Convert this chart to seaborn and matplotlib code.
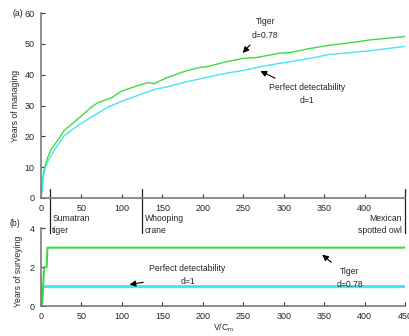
import matplotlib
matplotlib.use("Agg")
import matplotlib.pyplot as plt
import seaborn as sns
import pandas as pd

# ---------- data ----------
# (a) years of managing vs V/C_m
x_tiger_mng = [0, 1, 2.5, 4.5, 8, 12.7, 21, 29, 37, 49, 60, 70, 87, 99, 120, 132, 140,
               155, 180, 197, 205, 229, 250, 267, 295, 308, 330, 357, 380, 407, 450]
y_tiger_mng = [0, 2.5, 7, 10, 13, 15.8, 18.8, 22, 23.7, 26.4, 29, 30.9, 32.5, 34.6, 36.5, 37.4, 37.1,
               39, 41.3, 42.4, 42.6, 44.2, 45.3, 45.6, 47, 47.2, 48.4, 49.6, 50.3, 51.3, 52.4]
x_perf_mng = [0, 1, 2.5, 5, 8.6, 17, 29, 45.7, 62, 83, 103, 120, 140, 155, 180, 209,
              229, 250, 271, 295, 308, 330, 357, 380, 407, 450]
y_perf_mng = [0, 2, 6, 9.5, 12, 15.8, 20.3, 23.5, 26.2, 29.5, 31.7, 33.3, 35.2, 36, 37.7, 39.4,
              40.5, 41.4, 42.6, 43.7, 44.2, 45.2, 46.6, 47.1, 47.8, 49.2]

# (b) years of surveying
x_tiger_srv = [1, 4, 5, 7, 8, 450]
y_tiger_srv = [0, 2, 2, 2, 3, 3]
x_perf_srv = [0, 0.5, 2, 450]
y_perf_srv = [0, 0, 1, 1]

# species markers on the V/C_m axis
species_x = [11, 125, 450]
species_names = ["Sumatran\ntiger", "Whooping\ncrane", "Mexican\nspotted owl"]

GREEN = "#3fdc3f"
CYAN = "#44e4f0"
GREY = "#7a7a7a"
FS = 6.2

sns.set_style("white")
plt.rcParams["font.family"] = ["Liberation Sans", "DejaVu Sans"]
plt.rcParams["font.size"] = FS

fig = plt.figure(figsize=(4.10, 3.36), dpi=100)
ax_a = fig.add_axes([0.1, 0.411, 0.888, 0.55])
ax_b = fig.add_axes([0.1, 0.089, 0.888, 0.232])
ax_b.patch.set_visible(False)  # let the species labels of (a) show through

df_a = pd.concat([
    pd.DataFrame({"x": x_tiger_mng, "y": y_tiger_mng, "s": "tiger"}),
    pd.DataFrame({"x": x_perf_mng, "y": y_perf_mng, "s": "perfect"}),
])
df_b = pd.concat([
    pd.DataFrame({"x": x_tiger_srv, "y": y_tiger_srv, "s": "tiger"}),
    pd.DataFrame({"x": x_perf_srv, "y": y_perf_srv, "s": "perfect"}),
])

sns.lineplot(data=df_a, x="x", y="y", hue="s", palette={"tiger": GREEN, "perfect": CYAN},
             estimator=None, sort=False, linewidth=1.0, legend=False, ax=ax_a)
sns.lineplot(data=df_b[df_b.s == "perfect"], x="x", y="y", color=CYAN,
             estimator=None, sort=False, linewidth=2.2, legend=False, ax=ax_b)
sns.lineplot(data=df_b[df_b.s == "tiger"], x="x", y="y", color=GREEN,
             estimator=None, sort=False, linewidth=1.5, legend=False, ax=ax_b)

for ax in (ax_a, ax_b):
    ax.set_xlim(0, 450)
    ax.set_xticks(range(0, 451, 50))
    for side in ("top", "right"):
        ax.spines[side].set_visible(False)
    for side in ("left", "bottom"):
        ax.spines[side].set_color(GREY)
        ax.spines[side].set_linewidth(1.2)
    ax.tick_params(direction="in", length=3, width=0.8, color="#333333",
                   labelsize=FS + 0.3, pad=4.5, bottom=True, left=True)
    ax.set_xlabel("")
    ax.set_ylabel("")

ax_a.set_ylim(0, 60)
ax_a.set_yticks(range(0, 61, 10))
ax_a.set_xticklabels([str(v) for v in range(0, 401, 50)] + [""])
ax_a.set_ylabel("Years of managing", fontsize=FS)
ax_a.yaxis.set_label_coords(-0.058, 0.5)
ax_a.text(-0.048, 1.0, "(a)", transform=ax_a.transAxes, fontsize=FS, va="center", ha="right")

ax_b.set_ylim(0, 4)
ax_b.set_yticks([0, 2, 4])
ax_b.set_ylabel("Years of surveying", fontsize=FS)
ax_b.yaxis.set_label_coords(-0.05, 0.45)
ax_b.set_xlabel("V/C$_\\mathregular{m}$", fontsize=FS)
ax_b.xaxis.set_label_coords(0.5, -0.2)
ax_b.text(-0.058, 1.06, "(b)", transform=ax_b.transAxes, fontsize=FS, va="center", ha="right")

# species separators
for xs, name in zip(species_x, species_names):
    ax_a.plot([xs, xs], [2.9, -11.4], color="#222222", lw=0.9, clip_on=False)
    if xs < 400:
        ax_a.text(xs + 3, -8.6, name, fontsize=FS, ha="left", va="center", linespacing=1.45)
    else:
        ax_a.text(xs - 4, -8.6, name, fontsize=FS, ha="right", va="center", linespacing=1.45)

arrow = dict(arrowstyle="-|>", color="black", lw=0.8, mutation_scale=9)
ax_a.annotate("Tiger\nd=0.78", xy=(247, 46.4), xytext=(277, 55), ha="center", va="center",
              fontsize=FS, linespacing=1.6, arrowprops=arrow)
ax_a.annotate("Perfect detectability\nd=1", xy=(268, 41.6), xytext=(329, 33.8), ha="center",
              va="center", fontsize=FS, linespacing=1.6, arrowprops=arrow)
ax_b.annotate("Perfect detectability\nd=1", xy=(106, 1.08), xytext=(181, 1.6), ha="center",
              va="center", fontsize=FS, linespacing=1.6, arrowprops=arrow)
ax_b.annotate("Tiger\nd=0.78", xy=(345, 2.73), xytext=(382, 1.45), ha="center",
              va="center", fontsize=FS, linespacing=1.6, arrowprops=arrow)

plt.savefig("out.png", dpi=100)
